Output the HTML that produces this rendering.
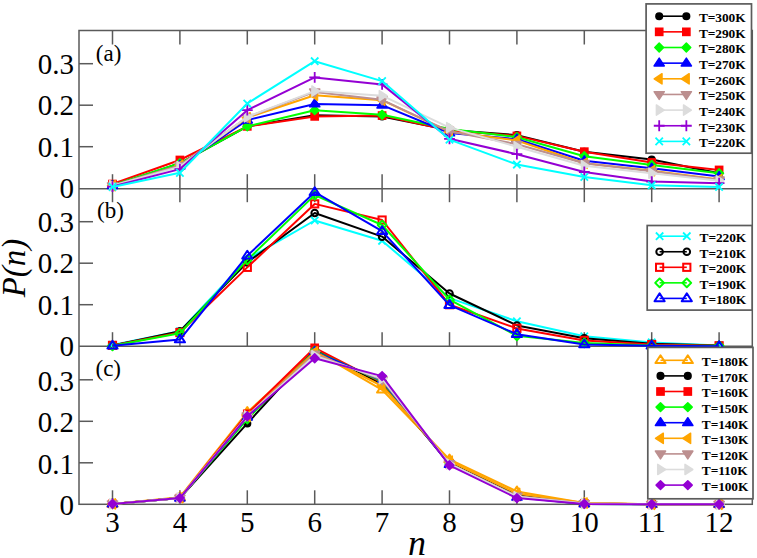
<!DOCTYPE html>
<html><head><meta charset="utf-8"><style>
html,body{margin:0;padding:0;background:#fff;}
body{width:757px;height:558px;overflow:hidden;}
svg{display:block;}
text{font-family:"Liberation Serif",serif;}
.tk text{font-size:29px;fill:#000;}
.lg{font-size:13.4px;font-weight:bold;fill:#000;letter-spacing:-0.1px;}
</style></head><body>
<svg width="757" height="558" viewBox="0 0 757 558">
<rect width="757" height="558" fill="#fff"/>
<g stroke="#5a5a5a" stroke-width="1.5" fill="none">
<line x1="112.5" y1="188.2" x2="112.5" y2="174.2"/>
<line x1="112.5" y1="30.5" x2="112.5" y2="44.5"/>
<line x1="179.9" y1="188.2" x2="179.9" y2="174.2"/>
<line x1="179.9" y1="30.5" x2="179.9" y2="44.5"/>
<line x1="247.3" y1="188.2" x2="247.3" y2="174.2"/>
<line x1="247.3" y1="30.5" x2="247.3" y2="44.5"/>
<line x1="314.7" y1="188.2" x2="314.7" y2="174.2"/>
<line x1="314.7" y1="30.5" x2="314.7" y2="44.5"/>
<line x1="382.1" y1="188.2" x2="382.1" y2="174.2"/>
<line x1="382.1" y1="30.5" x2="382.1" y2="44.5"/>
<line x1="449.5" y1="188.2" x2="449.5" y2="174.2"/>
<line x1="449.5" y1="30.5" x2="449.5" y2="44.5"/>
<line x1="516.9" y1="188.2" x2="516.9" y2="174.2"/>
<line x1="516.9" y1="30.5" x2="516.9" y2="44.5"/>
<line x1="584.3" y1="188.2" x2="584.3" y2="174.2"/>
<line x1="584.3" y1="30.5" x2="584.3" y2="44.5"/>
<line x1="651.7" y1="188.2" x2="651.7" y2="174.2"/>
<line x1="651.7" y1="30.5" x2="651.7" y2="44.5"/>
<line x1="719.1" y1="188.2" x2="719.1" y2="174.2"/>
<line x1="719.1" y1="30.5" x2="719.1" y2="44.5"/>
<line x1="79.0" y1="146.7" x2="93.0" y2="146.7"/>
<line x1="79.0" y1="105.2" x2="93.0" y2="105.2"/>
<line x1="79.0" y1="63.7" x2="93.0" y2="63.7"/>
<line x1="112.5" y1="346.2" x2="112.5" y2="332.2"/>
<line x1="112.5" y1="188.2" x2="112.5" y2="202.2"/>
<line x1="179.9" y1="346.2" x2="179.9" y2="332.2"/>
<line x1="179.9" y1="188.2" x2="179.9" y2="202.2"/>
<line x1="247.3" y1="346.2" x2="247.3" y2="332.2"/>
<line x1="247.3" y1="188.2" x2="247.3" y2="202.2"/>
<line x1="314.7" y1="346.2" x2="314.7" y2="332.2"/>
<line x1="314.7" y1="188.2" x2="314.7" y2="202.2"/>
<line x1="382.1" y1="346.2" x2="382.1" y2="332.2"/>
<line x1="382.1" y1="188.2" x2="382.1" y2="202.2"/>
<line x1="449.5" y1="346.2" x2="449.5" y2="332.2"/>
<line x1="449.5" y1="188.2" x2="449.5" y2="202.2"/>
<line x1="516.9" y1="346.2" x2="516.9" y2="332.2"/>
<line x1="516.9" y1="188.2" x2="516.9" y2="202.2"/>
<line x1="584.3" y1="346.2" x2="584.3" y2="332.2"/>
<line x1="584.3" y1="188.2" x2="584.3" y2="202.2"/>
<line x1="651.7" y1="346.2" x2="651.7" y2="332.2"/>
<line x1="651.7" y1="188.2" x2="651.7" y2="202.2"/>
<line x1="719.1" y1="346.2" x2="719.1" y2="332.2"/>
<line x1="719.1" y1="188.2" x2="719.1" y2="202.2"/>
<line x1="79.0" y1="304.7" x2="93.0" y2="304.7"/>
<line x1="79.0" y1="263.2" x2="93.0" y2="263.2"/>
<line x1="79.0" y1="221.7" x2="93.0" y2="221.7"/>
<line x1="112.5" y1="504.3" x2="112.5" y2="490.3"/>
<line x1="179.9" y1="504.3" x2="179.9" y2="490.3"/>
<line x1="247.3" y1="504.3" x2="247.3" y2="490.3"/>
<line x1="314.7" y1="504.3" x2="314.7" y2="490.3"/>
<line x1="382.1" y1="504.3" x2="382.1" y2="490.3"/>
<line x1="449.5" y1="504.3" x2="449.5" y2="490.3"/>
<line x1="516.9" y1="504.3" x2="516.9" y2="490.3"/>
<line x1="584.3" y1="504.3" x2="584.3" y2="490.3"/>
<line x1="651.7" y1="504.3" x2="651.7" y2="490.3"/>
<line x1="719.1" y1="504.3" x2="719.1" y2="490.3"/>
<line x1="79.0" y1="462.8" x2="93.0" y2="462.8"/>
<line x1="79.0" y1="421.3" x2="93.0" y2="421.3"/>
<line x1="79.0" y1="379.8" x2="93.0" y2="379.8"/>
<rect x="79.0" y="30.5" width="673.3" height="473.8" fill="none"/>
<line x1="79.0" y1="188.7" x2="752.3" y2="188.7"/>
<line x1="79.0" y1="346.2" x2="752.3" y2="346.2"/>
</g>
<g>
<polyline points="112.5,186.1 179.9,163.3 247.3,126.4 314.7,115.2 382.1,116.4 449.5,130.1 516.9,135.1 584.3,151.7 651.7,159.6 719.1,173.3" fill="none" stroke="#000000" stroke-width="2" stroke-linejoin="round"/>
<circle cx="112.50" cy="186.12" r="3.30" fill="#000000" stroke="#000000" stroke-width="1.5"/>
<circle cx="179.90" cy="163.30" r="3.30" fill="#000000" stroke="#000000" stroke-width="1.5"/>
<circle cx="247.30" cy="126.36" r="3.30" fill="#000000" stroke="#000000" stroke-width="1.5"/>
<circle cx="314.70" cy="115.16" r="3.30" fill="#000000" stroke="#000000" stroke-width="1.5"/>
<circle cx="382.10" cy="116.40" r="3.30" fill="#000000" stroke="#000000" stroke-width="1.5"/>
<circle cx="449.50" cy="130.10" r="3.30" fill="#000000" stroke="#000000" stroke-width="1.5"/>
<circle cx="516.90" cy="135.08" r="3.30" fill="#000000" stroke="#000000" stroke-width="1.5"/>
<circle cx="584.30" cy="151.68" r="3.30" fill="#000000" stroke="#000000" stroke-width="1.5"/>
<circle cx="651.70" cy="159.56" r="3.30" fill="#000000" stroke="#000000" stroke-width="1.5"/>
<circle cx="719.10" cy="173.26" r="3.30" fill="#000000" stroke="#000000" stroke-width="1.5"/>
<polyline points="112.5,184.0 179.9,160.0 247.3,126.4 314.7,116.4 382.1,115.6 449.5,130.5 516.9,135.9 584.3,151.7 651.7,162.5 719.1,169.9" fill="none" stroke="#ff0000" stroke-width="2" stroke-linejoin="round"/>
<rect x="108.90" y="180.45" width="7.20" height="7.20" fill="#ff0000" stroke="#ff0000" stroke-width="1.5"/>
<rect x="176.30" y="156.38" width="7.20" height="7.20" fill="#ff0000" stroke="#ff0000" stroke-width="1.5"/>
<rect x="243.70" y="122.76" width="7.20" height="7.20" fill="#ff0000" stroke="#ff0000" stroke-width="1.5"/>
<rect x="311.10" y="112.80" width="7.20" height="7.20" fill="#ff0000" stroke="#ff0000" stroke-width="1.5"/>
<rect x="378.50" y="111.97" width="7.20" height="7.20" fill="#ff0000" stroke="#ff0000" stroke-width="1.5"/>
<rect x="445.90" y="126.91" width="7.20" height="7.20" fill="#ff0000" stroke="#ff0000" stroke-width="1.5"/>
<rect x="513.30" y="132.31" width="7.20" height="7.20" fill="#ff0000" stroke="#ff0000" stroke-width="1.5"/>
<rect x="580.70" y="148.08" width="7.20" height="7.20" fill="#ff0000" stroke="#ff0000" stroke-width="1.5"/>
<rect x="648.10" y="158.87" width="7.20" height="7.20" fill="#ff0000" stroke="#ff0000" stroke-width="1.5"/>
<rect x="715.50" y="166.34" width="7.20" height="7.20" fill="#ff0000" stroke="#ff0000" stroke-width="1.5"/>
<polyline points="112.5,185.3 179.9,163.3 247.3,126.4 314.7,110.2 382.1,114.7 449.5,128.9 516.9,137.2 584.3,156.2 651.7,165.0 719.1,173.3" fill="none" stroke="#00ff00" stroke-width="2" stroke-linejoin="round"/>
<path d="M112.50 180.89L116.90 185.29L112.50 189.69L108.10 185.29Z" fill="#00ff00" stroke="#00ff00" stroke-width="1.5" stroke-linejoin="round"/>
<path d="M179.90 158.90L184.30 163.30L179.90 167.70L175.50 163.30Z" fill="#00ff00" stroke="#00ff00" stroke-width="1.5" stroke-linejoin="round"/>
<path d="M247.30 121.96L251.70 126.36L247.30 130.76L242.90 126.36Z" fill="#00ff00" stroke="#00ff00" stroke-width="1.5" stroke-linejoin="round"/>
<path d="M314.70 105.78L319.10 110.18L314.70 114.58L310.30 110.18Z" fill="#00ff00" stroke="#00ff00" stroke-width="1.5" stroke-linejoin="round"/>
<path d="M382.10 110.34L386.50 114.74L382.10 119.14L377.70 114.74Z" fill="#00ff00" stroke="#00ff00" stroke-width="1.5" stroke-linejoin="round"/>
<path d="M449.50 124.45L453.90 128.85L449.50 133.25L445.10 128.85Z" fill="#00ff00" stroke="#00ff00" stroke-width="1.5" stroke-linejoin="round"/>
<path d="M516.90 132.75L521.30 137.15L516.90 141.55L512.50 137.15Z" fill="#00ff00" stroke="#00ff00" stroke-width="1.5" stroke-linejoin="round"/>
<path d="M584.30 151.84L588.70 156.25L584.30 160.65L579.90 156.25Z" fill="#00ff00" stroke="#00ff00" stroke-width="1.5" stroke-linejoin="round"/>
<path d="M651.70 160.56L656.10 164.96L651.70 169.36L647.30 164.96Z" fill="#00ff00" stroke="#00ff00" stroke-width="1.5" stroke-linejoin="round"/>
<path d="M719.10 168.86L723.50 173.26L719.10 177.66L714.70 173.26Z" fill="#00ff00" stroke="#00ff00" stroke-width="1.5" stroke-linejoin="round"/>
<polyline points="112.5,185.7 179.9,165.4 247.3,120.1 314.7,104.0 382.1,105.2 449.5,133.0 516.9,139.2 584.3,160.8 651.7,168.3 719.1,176.6" fill="none" stroke="#0000ff" stroke-width="2" stroke-linejoin="round"/>
<path d="M112.50 180.71L117.60 188.51L107.40 188.51Z" fill="#0000ff" stroke="#0000ff" stroke-width="1.5" stroke-linejoin="round"/>
<path d="M179.90 160.38L185.00 168.18L174.80 168.18Z" fill="#0000ff" stroke="#0000ff" stroke-width="1.5" stroke-linejoin="round"/>
<path d="M247.30 115.14L252.40 122.94L242.20 122.94Z" fill="#0000ff" stroke="#0000ff" stroke-width="1.5" stroke-linejoin="round"/>
<path d="M314.70 98.95L319.80 106.75L309.60 106.75Z" fill="#0000ff" stroke="#0000ff" stroke-width="1.5" stroke-linejoin="round"/>
<path d="M382.10 100.20L387.20 108.00L377.00 108.00Z" fill="#0000ff" stroke="#0000ff" stroke-width="1.5" stroke-linejoin="round"/>
<path d="M449.50 128.00L454.60 135.81L444.40 135.81Z" fill="#0000ff" stroke="#0000ff" stroke-width="1.5" stroke-linejoin="round"/>
<path d="M516.90 134.23L522.00 142.03L511.80 142.03Z" fill="#0000ff" stroke="#0000ff" stroke-width="1.5" stroke-linejoin="round"/>
<path d="M584.30 155.81L589.40 163.61L579.20 163.61Z" fill="#0000ff" stroke="#0000ff" stroke-width="1.5" stroke-linejoin="round"/>
<path d="M651.70 163.28L656.80 171.08L646.60 171.08Z" fill="#0000ff" stroke="#0000ff" stroke-width="1.5" stroke-linejoin="round"/>
<path d="M719.10 171.58L724.20 179.38L714.00 179.38Z" fill="#0000ff" stroke="#0000ff" stroke-width="1.5" stroke-linejoin="round"/>
<polyline points="112.5,185.7 179.9,165.4 247.3,117.6 314.7,95.2 382.1,100.2 449.5,131.8 516.9,140.5 584.3,163.3 651.7,170.8 719.1,179.5" fill="none" stroke="#ffa500" stroke-width="2" stroke-linejoin="round"/>
<path d="M107.50 185.71L115.30 180.61L115.30 190.81Z" fill="#ffa500" stroke="#ffa500" stroke-width="1.5" stroke-linejoin="round"/>
<path d="M174.90 165.38L182.70 160.28L182.70 170.47Z" fill="#ffa500" stroke="#ffa500" stroke-width="1.5" stroke-linejoin="round"/>
<path d="M242.30 117.65L250.10 112.55L250.10 122.75Z" fill="#ffa500" stroke="#ffa500" stroke-width="1.5" stroke-linejoin="round"/>
<path d="M309.70 95.24L317.50 90.14L317.50 100.34Z" fill="#ffa500" stroke="#ffa500" stroke-width="1.5" stroke-linejoin="round"/>
<path d="M377.10 100.22L384.90 95.12L384.90 105.32Z" fill="#ffa500" stroke="#ffa500" stroke-width="1.5" stroke-linejoin="round"/>
<path d="M444.50 131.76L452.30 126.66L452.30 136.86Z" fill="#ffa500" stroke="#ffa500" stroke-width="1.5" stroke-linejoin="round"/>
<path d="M511.90 140.47L519.70 135.38L519.70 145.57Z" fill="#ffa500" stroke="#ffa500" stroke-width="1.5" stroke-linejoin="round"/>
<path d="M579.30 163.30L587.10 158.20L587.10 168.40Z" fill="#ffa500" stroke="#ffa500" stroke-width="1.5" stroke-linejoin="round"/>
<path d="M646.70 170.77L654.50 165.67L654.50 175.87Z" fill="#ffa500" stroke="#ffa500" stroke-width="1.5" stroke-linejoin="round"/>
<path d="M714.10 179.48L721.90 174.38L721.90 184.58Z" fill="#ffa500" stroke="#ffa500" stroke-width="1.5" stroke-linejoin="round"/>
<polyline points="112.5,185.7 179.9,165.4 247.3,117.2 314.7,91.9 382.1,99.8 449.5,131.3 516.9,144.2 584.3,163.3 651.7,171.2 719.1,179.9" fill="none" stroke="#bc8f8f" stroke-width="2" stroke-linejoin="round"/>
<path d="M112.50 190.71L117.60 182.91L107.40 182.91Z" fill="#bc8f8f" stroke="#bc8f8f" stroke-width="1.5" stroke-linejoin="round"/>
<path d="M179.90 170.38L185.00 162.57L174.80 162.57Z" fill="#bc8f8f" stroke="#bc8f8f" stroke-width="1.5" stroke-linejoin="round"/>
<path d="M247.30 122.23L252.40 114.43L242.20 114.43Z" fill="#bc8f8f" stroke="#bc8f8f" stroke-width="1.5" stroke-linejoin="round"/>
<path d="M314.70 96.92L319.80 89.12L309.60 89.12Z" fill="#bc8f8f" stroke="#bc8f8f" stroke-width="1.5" stroke-linejoin="round"/>
<path d="M382.10 104.80L387.20 97.00L377.00 97.00Z" fill="#bc8f8f" stroke="#bc8f8f" stroke-width="1.5" stroke-linejoin="round"/>
<path d="M449.50 136.34L454.60 128.54L444.40 128.54Z" fill="#bc8f8f" stroke="#bc8f8f" stroke-width="1.5" stroke-linejoin="round"/>
<path d="M516.90 149.21L522.00 141.41L511.80 141.41Z" fill="#bc8f8f" stroke="#bc8f8f" stroke-width="1.5" stroke-linejoin="round"/>
<path d="M584.30 168.30L589.40 160.50L579.20 160.50Z" fill="#bc8f8f" stroke="#bc8f8f" stroke-width="1.5" stroke-linejoin="round"/>
<path d="M651.70 176.19L656.80 168.38L646.60 168.38Z" fill="#bc8f8f" stroke="#bc8f8f" stroke-width="1.5" stroke-linejoin="round"/>
<path d="M719.10 184.90L724.20 177.10L714.00 177.10Z" fill="#bc8f8f" stroke="#bc8f8f" stroke-width="1.5" stroke-linejoin="round"/>
<polyline points="112.5,185.7 179.9,166.6 247.3,116.8 314.7,91.1 382.1,95.7 449.5,127.6 516.9,146.7 584.3,165.8 651.7,173.3 719.1,180.7" fill="none" stroke="#dcdcdc" stroke-width="2" stroke-linejoin="round"/>
<path d="M117.50 185.71L109.70 180.61L109.70 190.81Z" fill="#dcdcdc" stroke="#dcdcdc" stroke-width="1.5" stroke-linejoin="round"/>
<path d="M184.90 166.62L177.10 161.52L177.10 171.72Z" fill="#dcdcdc" stroke="#dcdcdc" stroke-width="1.5" stroke-linejoin="round"/>
<path d="M252.30 116.82L244.50 111.72L244.50 121.92Z" fill="#dcdcdc" stroke="#dcdcdc" stroke-width="1.5" stroke-linejoin="round"/>
<path d="M319.70 91.09L311.90 85.99L311.90 96.19Z" fill="#dcdcdc" stroke="#dcdcdc" stroke-width="1.5" stroke-linejoin="round"/>
<path d="M387.10 95.65L379.30 90.55L379.30 100.75Z" fill="#dcdcdc" stroke="#dcdcdc" stroke-width="1.5" stroke-linejoin="round"/>
<path d="M454.50 127.61L446.70 122.51L446.70 132.71Z" fill="#dcdcdc" stroke="#dcdcdc" stroke-width="1.5" stroke-linejoin="round"/>
<path d="M521.90 146.70L514.10 141.60L514.10 151.80Z" fill="#dcdcdc" stroke="#dcdcdc" stroke-width="1.5" stroke-linejoin="round"/>
<path d="M589.30 165.79L581.50 160.69L581.50 170.89Z" fill="#dcdcdc" stroke="#dcdcdc" stroke-width="1.5" stroke-linejoin="round"/>
<path d="M656.70 173.26L648.90 168.16L648.90 178.36Z" fill="#dcdcdc" stroke="#dcdcdc" stroke-width="1.5" stroke-linejoin="round"/>
<path d="M724.10 180.73L716.30 175.63L716.30 185.83Z" fill="#dcdcdc" stroke="#dcdcdc" stroke-width="1.5" stroke-linejoin="round"/>
<polyline points="112.5,186.5 179.9,169.1 247.3,110.2 314.7,77.4 382.1,84.4 449.5,138.8 516.9,154.2 584.3,172.0 651.7,181.6 719.1,183.2" fill="none" stroke="#9400d3" stroke-width="2" stroke-linejoin="round"/>
<path d="M107.10 186.54H117.90M112.50 181.14V191.94" stroke="#9400d3" stroke-width="1.8" fill="none"/>
<path d="M174.50 169.11H185.30M179.90 163.71V174.51" stroke="#9400d3" stroke-width="1.8" fill="none"/>
<path d="M241.90 110.18H252.70M247.30 104.78V115.58" stroke="#9400d3" stroke-width="1.8" fill="none"/>
<path d="M309.30 77.39H320.10M314.70 71.99V82.79" stroke="#9400d3" stroke-width="1.8" fill="none"/>
<path d="M376.70 84.45H387.50M382.10 79.05V89.85" stroke="#9400d3" stroke-width="1.8" fill="none"/>
<path d="M444.10 138.81H454.90M449.50 133.41V144.22" stroke="#9400d3" stroke-width="1.8" fill="none"/>
<path d="M511.50 154.17H522.30M516.90 148.77V159.57" stroke="#9400d3" stroke-width="1.8" fill="none"/>
<path d="M578.90 172.01H589.70M584.30 166.61V177.41" stroke="#9400d3" stroke-width="1.8" fill="none"/>
<path d="M646.30 181.56H657.10M651.70 176.16V186.96" stroke="#9400d3" stroke-width="1.8" fill="none"/>
<path d="M713.70 183.22H724.50M719.10 177.82V188.62" stroke="#9400d3" stroke-width="1.8" fill="none"/>
<polyline points="112.5,187.0 179.9,172.8 247.3,103.5 314.7,61.2 382.1,81.1 449.5,139.6 516.9,164.5 584.3,177.0 651.7,185.3 719.1,187.0" fill="none" stroke="#00ffff" stroke-width="2" stroke-linejoin="round"/>
<path d="M108.80 183.25L116.20 190.65M116.20 183.25L108.80 190.65" stroke="#00ffff" stroke-width="1.8" fill="none"/>
<path d="M176.20 169.15L183.60 176.54M183.60 169.15L176.20 176.54" stroke="#00ffff" stroke-width="1.8" fill="none"/>
<path d="M243.60 99.84L251.00 107.24M251.00 99.84L243.60 107.24" stroke="#00ffff" stroke-width="1.8" fill="none"/>
<path d="M311.00 57.51L318.40 64.91M318.40 57.51L311.00 64.91" stroke="#00ffff" stroke-width="1.8" fill="none"/>
<path d="M378.40 77.43L385.80 84.83M385.80 77.43L378.40 84.83" stroke="#00ffff" stroke-width="1.8" fill="none"/>
<path d="M445.80 135.94L453.20 143.34M453.20 135.94L445.80 143.34" stroke="#00ffff" stroke-width="1.8" fill="none"/>
<path d="M513.20 160.84L520.60 168.24M520.60 160.84L513.20 168.24" stroke="#00ffff" stroke-width="1.8" fill="none"/>
<path d="M580.60 173.29L588.00 180.69M588.00 173.29L580.60 180.69" stroke="#00ffff" stroke-width="1.8" fill="none"/>
<path d="M648.00 181.59L655.40 188.99M655.40 181.59L648.00 188.99" stroke="#00ffff" stroke-width="1.8" fill="none"/>
<path d="M715.40 183.25L722.80 190.65M722.80 183.25L715.40 190.65" stroke="#00ffff" stroke-width="1.8" fill="none"/>
<polyline points="112.5,345.0 179.9,331.3 247.3,259.1 314.7,220.5 382.1,240.8 449.5,298.1 516.9,321.3 584.3,336.2 651.7,342.5 719.1,345.4" fill="none" stroke="#00ffff" stroke-width="2" stroke-linejoin="round"/>
<path d="M108.80 341.25L116.20 348.65M116.20 341.25L108.80 348.65" stroke="#00ffff" stroke-width="1.8" fill="none"/>
<path d="M176.20 327.56L183.60 334.96M183.60 327.56L176.20 334.96" stroke="#00ffff" stroke-width="1.8" fill="none"/>
<path d="M243.60 255.35L251.00 262.75M251.00 255.35L243.60 262.75" stroke="#00ffff" stroke-width="1.8" fill="none"/>
<path d="M311.00 216.75L318.40 224.15M318.40 216.75L311.00 224.15" stroke="#00ffff" stroke-width="1.8" fill="none"/>
<path d="M378.40 237.09L385.80 244.49M385.80 237.09L378.40 244.49" stroke="#00ffff" stroke-width="1.8" fill="none"/>
<path d="M445.80 294.36L453.20 301.76M453.20 294.36L445.80 301.76" stroke="#00ffff" stroke-width="1.8" fill="none"/>
<path d="M513.20 317.60L520.60 325.00M520.60 317.60L513.20 325.00" stroke="#00ffff" stroke-width="1.8" fill="none"/>
<path d="M580.60 332.54L588.00 339.94M588.00 332.54L580.60 339.94" stroke="#00ffff" stroke-width="1.8" fill="none"/>
<path d="M648.00 338.76L655.40 346.16M655.40 338.76L648.00 346.16" stroke="#00ffff" stroke-width="1.8" fill="none"/>
<path d="M715.40 341.67L722.80 349.07M722.80 341.67L715.40 349.07" stroke="#00ffff" stroke-width="1.8" fill="none"/>
<polyline points="112.5,345.4 179.9,331.3 247.3,262.4 314.7,213.0 382.1,236.6 449.5,293.5 516.9,325.4 584.3,338.3 651.7,343.7 719.1,345.4" fill="none" stroke="#000000" stroke-width="2" stroke-linejoin="round"/>
<circle cx="112.50" cy="345.37" r="3.30" fill="none" stroke="#000000" stroke-width="2.0"/>
<circle cx="179.90" cy="331.26" r="3.30" fill="none" stroke="#000000" stroke-width="2.0"/>
<circle cx="247.30" cy="262.37" r="3.30" fill="none" stroke="#000000" stroke-width="2.0"/>
<circle cx="314.70" cy="212.98" r="3.30" fill="none" stroke="#000000" stroke-width="2.0"/>
<circle cx="382.10" cy="236.64" r="3.30" fill="none" stroke="#000000" stroke-width="2.0"/>
<circle cx="449.50" cy="293.50" r="3.30" fill="none" stroke="#000000" stroke-width="2.0"/>
<circle cx="516.90" cy="325.45" r="3.30" fill="none" stroke="#000000" stroke-width="2.0"/>
<circle cx="584.30" cy="338.31" r="3.30" fill="none" stroke="#000000" stroke-width="2.0"/>
<circle cx="651.70" cy="343.71" r="3.30" fill="none" stroke="#000000" stroke-width="2.0"/>
<circle cx="719.10" cy="345.37" r="3.30" fill="none" stroke="#000000" stroke-width="2.0"/>
<polyline points="112.5,345.4 179.9,332.5 247.3,267.4 314.7,203.9 382.1,220.0 449.5,304.7 516.9,328.4 584.3,340.4 651.7,344.5 719.1,345.8" fill="none" stroke="#ff0000" stroke-width="2" stroke-linejoin="round"/>
<rect x="108.90" y="341.77" width="7.20" height="7.20" fill="none" stroke="#ff0000" stroke-width="2.0"/>
<rect x="176.30" y="328.90" width="7.20" height="7.20" fill="none" stroke="#ff0000" stroke-width="2.0"/>
<rect x="243.70" y="263.75" width="7.20" height="7.20" fill="none" stroke="#ff0000" stroke-width="2.0"/>
<rect x="311.10" y="200.25" width="7.20" height="7.20" fill="none" stroke="#ff0000" stroke-width="2.0"/>
<rect x="378.50" y="216.44" width="7.20" height="7.20" fill="none" stroke="#ff0000" stroke-width="2.0"/>
<rect x="445.90" y="301.10" width="7.20" height="7.20" fill="none" stroke="#ff0000" stroke-width="2.0"/>
<rect x="513.30" y="324.75" width="7.20" height="7.20" fill="none" stroke="#ff0000" stroke-width="2.0"/>
<rect x="580.70" y="336.79" width="7.20" height="7.20" fill="none" stroke="#ff0000" stroke-width="2.0"/>
<rect x="648.10" y="340.94" width="7.20" height="7.20" fill="none" stroke="#ff0000" stroke-width="2.0"/>
<rect x="715.50" y="342.18" width="7.20" height="7.20" fill="none" stroke="#ff0000" stroke-width="2.0"/>
<polyline points="112.5,345.8 179.9,333.3 247.3,259.9 314.7,195.1 382.1,225.0 449.5,299.7 516.9,335.8 584.3,342.9 651.7,345.4 719.1,345.8" fill="none" stroke="#00ff00" stroke-width="2" stroke-linejoin="round"/>
<path d="M112.50 341.38L116.90 345.78L112.50 350.18L108.10 345.78Z" fill="none" stroke="#00ff00" stroke-width="2.0" stroke-linejoin="round"/>
<path d="M179.90 328.94L184.30 333.33L179.90 337.73L175.50 333.33Z" fill="none" stroke="#00ff00" stroke-width="2.0" stroke-linejoin="round"/>
<path d="M247.30 255.48L251.70 259.88L247.30 264.28L242.90 259.88Z" fill="none" stroke="#00ff00" stroke-width="2.0" stroke-linejoin="round"/>
<path d="M314.70 190.74L319.10 195.14L314.70 199.54L310.30 195.14Z" fill="none" stroke="#00ff00" stroke-width="2.0" stroke-linejoin="round"/>
<path d="M382.10 220.62L386.50 225.02L382.10 229.42L377.70 225.02Z" fill="none" stroke="#00ff00" stroke-width="2.0" stroke-linejoin="round"/>
<path d="M449.50 295.32L453.90 299.72L449.50 304.12L445.10 299.72Z" fill="none" stroke="#00ff00" stroke-width="2.0" stroke-linejoin="round"/>
<path d="M516.90 331.43L521.30 335.82L516.90 340.22L512.50 335.82Z" fill="none" stroke="#00ff00" stroke-width="2.0" stroke-linejoin="round"/>
<path d="M584.30 338.48L588.70 342.88L584.30 347.28L579.90 342.88Z" fill="none" stroke="#00ff00" stroke-width="2.0" stroke-linejoin="round"/>
<path d="M651.70 340.97L656.10 345.37L651.70 349.77L647.30 345.37Z" fill="none" stroke="#00ff00" stroke-width="2.0" stroke-linejoin="round"/>
<path d="M719.10 341.38L723.50 345.78L719.10 350.18L714.70 345.78Z" fill="none" stroke="#00ff00" stroke-width="2.0" stroke-linejoin="round"/>
<polyline points="112.5,345.8 179.9,339.6 247.3,255.7 314.7,192.2 382.1,231.2 449.5,305.1 516.9,334.2 584.3,344.5 651.7,345.8 719.1,346.2" fill="none" stroke="#0000ff" stroke-width="2" stroke-linejoin="round"/>
<path d="M112.50 340.78L117.60 348.58L107.40 348.58Z" fill="none" stroke="#0000ff" stroke-width="2.0" stroke-linejoin="round"/>
<path d="M179.90 334.56L185.00 342.36L174.80 342.36Z" fill="none" stroke="#0000ff" stroke-width="2.0" stroke-linejoin="round"/>
<path d="M247.30 250.73L252.40 258.53L242.20 258.53Z" fill="none" stroke="#0000ff" stroke-width="2.0" stroke-linejoin="round"/>
<path d="M314.70 187.23L319.80 195.03L309.60 195.03Z" fill="none" stroke="#0000ff" stroke-width="2.0" stroke-linejoin="round"/>
<path d="M382.10 226.24L387.20 234.04L377.00 234.04Z" fill="none" stroke="#0000ff" stroke-width="2.0" stroke-linejoin="round"/>
<path d="M449.50 300.12L454.60 307.92L444.40 307.92Z" fill="none" stroke="#0000ff" stroke-width="2.0" stroke-linejoin="round"/>
<path d="M516.90 329.16L522.00 336.96L511.80 336.96Z" fill="none" stroke="#0000ff" stroke-width="2.0" stroke-linejoin="round"/>
<path d="M584.30 339.54L589.40 347.34L579.20 347.34Z" fill="none" stroke="#0000ff" stroke-width="2.0" stroke-linejoin="round"/>
<path d="M651.70 340.78L656.80 348.58L646.60 348.58Z" fill="none" stroke="#0000ff" stroke-width="2.0" stroke-linejoin="round"/>
<path d="M719.10 341.20L724.20 349.00L714.00 349.00Z" fill="none" stroke="#0000ff" stroke-width="2.0" stroke-linejoin="round"/>
<polyline points="112.5,503.9 179.9,497.2 247.3,412.2 314.7,350.8 382.1,389.8 449.5,459.5 516.9,491.4 584.3,503.1 651.7,504.3 719.1,504.3" fill="none" stroke="#ffa500" stroke-width="2" stroke-linejoin="round"/>
<path d="M112.50 498.88L117.60 506.69L107.40 506.69Z" fill="none" stroke="#ffa500" stroke-width="2.0" stroke-linejoin="round"/>
<path d="M179.90 492.25L185.00 500.05L174.80 500.05Z" fill="none" stroke="#ffa500" stroke-width="2.0" stroke-linejoin="round"/>
<path d="M247.30 407.17L252.40 414.97L242.20 414.97Z" fill="none" stroke="#ffa500" stroke-width="2.0" stroke-linejoin="round"/>
<path d="M314.70 345.75L319.80 353.55L309.60 353.55Z" fill="none" stroke="#ffa500" stroke-width="2.0" stroke-linejoin="round"/>
<path d="M382.10 384.76L387.20 392.56L377.00 392.56Z" fill="none" stroke="#ffa500" stroke-width="2.0" stroke-linejoin="round"/>
<path d="M449.50 454.48L454.60 462.28L444.40 462.28Z" fill="none" stroke="#ffa500" stroke-width="2.0" stroke-linejoin="round"/>
<path d="M516.90 486.44L522.00 494.24L511.80 494.24Z" fill="none" stroke="#ffa500" stroke-width="2.0" stroke-linejoin="round"/>
<path d="M584.30 498.06L589.40 505.86L579.20 505.86Z" fill="none" stroke="#ffa500" stroke-width="2.0" stroke-linejoin="round"/>
<path d="M651.70 499.30L656.80 507.10L646.60 507.10Z" fill="none" stroke="#ffa500" stroke-width="2.0" stroke-linejoin="round"/>
<path d="M719.10 499.30L724.20 507.10L714.00 507.10Z" fill="none" stroke="#ffa500" stroke-width="2.0" stroke-linejoin="round"/>
<polyline points="112.5,503.9 179.9,498.1 247.3,423.4 314.7,349.9 382.1,384.0 449.5,462.8 516.9,495.2 584.3,503.5 651.7,504.3 719.1,504.3" fill="none" stroke="#000000" stroke-width="2" stroke-linejoin="round"/>
<circle cx="112.50" cy="503.88" r="3.30" fill="#000000" stroke="#000000" stroke-width="1.5"/>
<circle cx="179.90" cy="498.07" r="3.30" fill="#000000" stroke="#000000" stroke-width="1.5"/>
<circle cx="247.30" cy="423.38" r="3.30" fill="#000000" stroke="#000000" stroke-width="1.5"/>
<circle cx="314.70" cy="349.92" r="3.30" fill="#000000" stroke="#000000" stroke-width="1.5"/>
<circle cx="382.10" cy="383.95" r="3.30" fill="#000000" stroke="#000000" stroke-width="1.5"/>
<circle cx="449.50" cy="462.80" r="3.30" fill="#000000" stroke="#000000" stroke-width="1.5"/>
<circle cx="516.90" cy="495.17" r="3.30" fill="#000000" stroke="#000000" stroke-width="1.5"/>
<circle cx="584.30" cy="503.47" r="3.30" fill="#000000" stroke="#000000" stroke-width="1.5"/>
<circle cx="651.70" cy="504.30" r="3.30" fill="#000000" stroke="#000000" stroke-width="1.5"/>
<circle cx="719.10" cy="504.30" r="3.30" fill="#000000" stroke="#000000" stroke-width="1.5"/>
<polyline points="112.5,503.9 179.9,498.1 247.3,413.8 314.7,347.8 382.1,382.7 449.5,464.0 516.9,496.8 584.3,503.5 651.7,504.3 719.1,504.3" fill="none" stroke="#ff0000" stroke-width="2" stroke-linejoin="round"/>
<rect x="108.90" y="500.28" width="7.20" height="7.20" fill="#ff0000" stroke="#ff0000" stroke-width="1.5"/>
<rect x="176.30" y="494.47" width="7.20" height="7.20" fill="#ff0000" stroke="#ff0000" stroke-width="1.5"/>
<rect x="243.70" y="410.23" width="7.20" height="7.20" fill="#ff0000" stroke="#ff0000" stroke-width="1.5"/>
<rect x="311.10" y="344.25" width="7.20" height="7.20" fill="#ff0000" stroke="#ff0000" stroke-width="1.5"/>
<rect x="378.50" y="379.11" width="7.20" height="7.20" fill="#ff0000" stroke="#ff0000" stroke-width="1.5"/>
<rect x="445.90" y="460.44" width="7.20" height="7.20" fill="#ff0000" stroke="#ff0000" stroke-width="1.5"/>
<rect x="513.30" y="493.23" width="7.20" height="7.20" fill="#ff0000" stroke="#ff0000" stroke-width="1.5"/>
<rect x="580.70" y="499.87" width="7.20" height="7.20" fill="#ff0000" stroke="#ff0000" stroke-width="1.5"/>
<rect x="648.10" y="500.70" width="7.20" height="7.20" fill="#ff0000" stroke="#ff0000" stroke-width="1.5"/>
<rect x="715.50" y="500.70" width="7.20" height="7.20" fill="#ff0000" stroke="#ff0000" stroke-width="1.5"/>
<polyline points="112.5,503.9 179.9,498.1 247.3,419.2 314.7,350.8 382.1,381.5 449.5,464.0 516.9,496.8 584.3,503.9 651.7,504.3 719.1,504.3" fill="none" stroke="#00ff00" stroke-width="2" stroke-linejoin="round"/>
<path d="M112.50 499.49L116.90 503.88L112.50 508.28L108.10 503.88Z" fill="#00ff00" stroke="#00ff00" stroke-width="1.5" stroke-linejoin="round"/>
<path d="M179.90 493.68L184.30 498.07L179.90 502.47L175.50 498.07Z" fill="#00ff00" stroke="#00ff00" stroke-width="1.5" stroke-linejoin="round"/>
<path d="M247.30 414.83L251.70 419.23L247.30 423.62L242.90 419.23Z" fill="#00ff00" stroke="#00ff00" stroke-width="1.5" stroke-linejoin="round"/>
<path d="M314.70 346.35L319.10 350.75L314.70 355.15L310.30 350.75Z" fill="#00ff00" stroke="#00ff00" stroke-width="1.5" stroke-linejoin="round"/>
<path d="M382.10 377.06L386.50 381.46L382.10 385.86L377.70 381.46Z" fill="#00ff00" stroke="#00ff00" stroke-width="1.5" stroke-linejoin="round"/>
<path d="M449.50 459.65L453.90 464.05L449.50 468.44L445.10 464.05Z" fill="#00ff00" stroke="#00ff00" stroke-width="1.5" stroke-linejoin="round"/>
<path d="M516.90 492.43L521.30 496.83L516.90 501.23L512.50 496.83Z" fill="#00ff00" stroke="#00ff00" stroke-width="1.5" stroke-linejoin="round"/>
<path d="M584.30 499.49L588.70 503.88L584.30 508.28L579.90 503.88Z" fill="#00ff00" stroke="#00ff00" stroke-width="1.5" stroke-linejoin="round"/>
<path d="M651.70 499.90L656.10 504.30L651.70 508.70L647.30 504.30Z" fill="#00ff00" stroke="#00ff00" stroke-width="1.5" stroke-linejoin="round"/>
<path d="M719.10 499.90L723.50 504.30L719.10 508.70L714.70 504.30Z" fill="#00ff00" stroke="#00ff00" stroke-width="1.5" stroke-linejoin="round"/>
<polyline points="112.5,503.9 179.9,498.1 247.3,417.2 314.7,351.6 382.1,380.6 449.5,464.5 516.9,497.2 584.3,503.9 651.7,504.3 719.1,504.3" fill="none" stroke="#0000ff" stroke-width="2" stroke-linejoin="round"/>
<path d="M112.50 498.88L117.60 506.69L107.40 506.69Z" fill="#0000ff" stroke="#0000ff" stroke-width="1.5" stroke-linejoin="round"/>
<path d="M179.90 493.07L185.00 500.88L174.80 500.88Z" fill="#0000ff" stroke="#0000ff" stroke-width="1.5" stroke-linejoin="round"/>
<path d="M247.30 412.15L252.40 419.95L242.20 419.95Z" fill="#0000ff" stroke="#0000ff" stroke-width="1.5" stroke-linejoin="round"/>
<path d="M314.70 346.58L319.80 354.38L309.60 354.38Z" fill="#0000ff" stroke="#0000ff" stroke-width="1.5" stroke-linejoin="round"/>
<path d="M382.10 375.63L387.20 383.43L377.00 383.43Z" fill="#0000ff" stroke="#0000ff" stroke-width="1.5" stroke-linejoin="round"/>
<path d="M449.50 459.46L454.60 467.26L444.40 467.26Z" fill="#0000ff" stroke="#0000ff" stroke-width="1.5" stroke-linejoin="round"/>
<path d="M516.90 492.25L522.00 500.05L511.80 500.05Z" fill="#0000ff" stroke="#0000ff" stroke-width="1.5" stroke-linejoin="round"/>
<path d="M584.30 498.88L589.40 506.69L579.20 506.69Z" fill="#0000ff" stroke="#0000ff" stroke-width="1.5" stroke-linejoin="round"/>
<path d="M651.70 499.30L656.80 507.10L646.60 507.10Z" fill="#0000ff" stroke="#0000ff" stroke-width="1.5" stroke-linejoin="round"/>
<path d="M719.10 499.30L724.20 507.10L714.00 507.10Z" fill="#0000ff" stroke="#0000ff" stroke-width="1.5" stroke-linejoin="round"/>
<polyline points="112.5,503.9 179.9,497.7 247.3,416.3 314.7,352.0 382.1,386.0 449.5,461.1 516.9,493.5 584.3,503.1 651.7,504.3 719.1,504.3" fill="none" stroke="#ffa500" stroke-width="2" stroke-linejoin="round"/>
<path d="M107.50 503.88L115.30 498.78L115.30 508.99Z" fill="#ffa500" stroke="#ffa500" stroke-width="1.5" stroke-linejoin="round"/>
<path d="M174.90 497.66L182.70 492.56L182.70 502.76Z" fill="#ffa500" stroke="#ffa500" stroke-width="1.5" stroke-linejoin="round"/>
<path d="M242.30 416.32L250.10 411.22L250.10 421.42Z" fill="#ffa500" stroke="#ffa500" stroke-width="1.5" stroke-linejoin="round"/>
<path d="M309.70 352.00L317.50 346.89L317.50 357.10Z" fill="#ffa500" stroke="#ffa500" stroke-width="1.5" stroke-linejoin="round"/>
<path d="M377.10 386.03L384.90 380.93L384.90 391.13Z" fill="#ffa500" stroke="#ffa500" stroke-width="1.5" stroke-linejoin="round"/>
<path d="M444.50 461.14L452.30 456.04L452.30 466.24Z" fill="#ffa500" stroke="#ffa500" stroke-width="1.5" stroke-linejoin="round"/>
<path d="M511.90 493.51L519.70 488.41L519.70 498.61Z" fill="#ffa500" stroke="#ffa500" stroke-width="1.5" stroke-linejoin="round"/>
<path d="M579.30 503.06L587.10 497.95L587.10 508.16Z" fill="#ffa500" stroke="#ffa500" stroke-width="1.5" stroke-linejoin="round"/>
<path d="M646.70 504.30L654.50 499.20L654.50 509.40Z" fill="#ffa500" stroke="#ffa500" stroke-width="1.5" stroke-linejoin="round"/>
<path d="M714.10 504.30L721.90 499.20L721.90 509.40Z" fill="#ffa500" stroke="#ffa500" stroke-width="1.5" stroke-linejoin="round"/>
<polyline points="112.5,503.9 179.9,498.1 247.3,415.9 314.7,354.1 382.1,379.8 449.5,463.6 516.9,496.0 584.3,503.5 651.7,504.3 719.1,504.3" fill="none" stroke="#bc8f8f" stroke-width="2" stroke-linejoin="round"/>
<path d="M112.50 508.88L117.60 501.08L107.40 501.08Z" fill="#bc8f8f" stroke="#bc8f8f" stroke-width="1.5" stroke-linejoin="round"/>
<path d="M179.90 503.07L185.00 495.27L174.80 495.27Z" fill="#bc8f8f" stroke="#bc8f8f" stroke-width="1.5" stroke-linejoin="round"/>
<path d="M247.30 420.91L252.40 413.11L242.20 413.11Z" fill="#bc8f8f" stroke="#bc8f8f" stroke-width="1.5" stroke-linejoin="round"/>
<path d="M314.70 359.07L319.80 351.27L309.60 351.27Z" fill="#bc8f8f" stroke="#bc8f8f" stroke-width="1.5" stroke-linejoin="round"/>
<path d="M382.10 384.80L387.20 377.00L377.00 377.00Z" fill="#bc8f8f" stroke="#bc8f8f" stroke-width="1.5" stroke-linejoin="round"/>
<path d="M449.50 468.63L454.60 460.83L444.40 460.83Z" fill="#bc8f8f" stroke="#bc8f8f" stroke-width="1.5" stroke-linejoin="round"/>
<path d="M516.90 501.00L522.00 493.20L511.80 493.20Z" fill="#bc8f8f" stroke="#bc8f8f" stroke-width="1.5" stroke-linejoin="round"/>
<path d="M584.30 508.47L589.40 500.67L579.20 500.67Z" fill="#bc8f8f" stroke="#bc8f8f" stroke-width="1.5" stroke-linejoin="round"/>
<path d="M651.70 509.30L656.80 501.50L646.60 501.50Z" fill="#bc8f8f" stroke="#bc8f8f" stroke-width="1.5" stroke-linejoin="round"/>
<path d="M719.10 509.30L724.20 501.50L714.00 501.50Z" fill="#bc8f8f" stroke="#bc8f8f" stroke-width="1.5" stroke-linejoin="round"/>
<polyline points="112.5,503.9 179.9,498.1 247.3,415.9 314.7,355.7 382.1,378.6 449.5,464.0 516.9,496.8 584.3,503.5 651.7,504.3 719.1,504.3" fill="none" stroke="#dcdcdc" stroke-width="2" stroke-linejoin="round"/>
<path d="M117.50 503.88L109.70 498.78L109.70 508.99Z" fill="#dcdcdc" stroke="#dcdcdc" stroke-width="1.5" stroke-linejoin="round"/>
<path d="M184.90 498.07L177.10 492.97L177.10 503.18Z" fill="#dcdcdc" stroke="#dcdcdc" stroke-width="1.5" stroke-linejoin="round"/>
<path d="M252.30 415.91L244.50 410.81L244.50 421.01Z" fill="#dcdcdc" stroke="#dcdcdc" stroke-width="1.5" stroke-linejoin="round"/>
<path d="M319.70 355.73L311.90 350.63L311.90 360.83Z" fill="#dcdcdc" stroke="#dcdcdc" stroke-width="1.5" stroke-linejoin="round"/>
<path d="M387.10 378.56L379.30 373.45L379.30 383.66Z" fill="#dcdcdc" stroke="#dcdcdc" stroke-width="1.5" stroke-linejoin="round"/>
<path d="M454.50 464.05L446.70 458.94L446.70 469.15Z" fill="#dcdcdc" stroke="#dcdcdc" stroke-width="1.5" stroke-linejoin="round"/>
<path d="M521.90 496.83L514.10 491.73L514.10 501.93Z" fill="#dcdcdc" stroke="#dcdcdc" stroke-width="1.5" stroke-linejoin="round"/>
<path d="M589.30 503.47L581.50 498.37L581.50 508.57Z" fill="#dcdcdc" stroke="#dcdcdc" stroke-width="1.5" stroke-linejoin="round"/>
<path d="M656.70 504.30L648.90 499.20L648.90 509.40Z" fill="#dcdcdc" stroke="#dcdcdc" stroke-width="1.5" stroke-linejoin="round"/>
<path d="M724.10 504.30L716.30 499.20L716.30 509.40Z" fill="#dcdcdc" stroke="#dcdcdc" stroke-width="1.5" stroke-linejoin="round"/>
<polyline points="112.5,503.9 179.9,498.1 247.3,416.3 314.7,358.2 382.1,376.1 449.5,465.3 516.9,498.1 584.3,503.9 651.7,504.3 719.1,504.3" fill="none" stroke="#9400d3" stroke-width="2" stroke-linejoin="round"/>
<path d="M112.50 499.49L116.90 503.88L112.50 508.28L108.10 503.88Z" fill="#9400d3" stroke="#9400d3" stroke-width="1.5" stroke-linejoin="round"/>
<path d="M179.90 493.68L184.30 498.07L179.90 502.47L175.50 498.07Z" fill="#9400d3" stroke="#9400d3" stroke-width="1.5" stroke-linejoin="round"/>
<path d="M247.30 411.92L251.70 416.32L247.30 420.72L242.90 416.32Z" fill="#9400d3" stroke="#9400d3" stroke-width="1.5" stroke-linejoin="round"/>
<path d="M314.70 353.82L319.10 358.22L314.70 362.62L310.30 358.22Z" fill="#9400d3" stroke="#9400d3" stroke-width="1.5" stroke-linejoin="round"/>
<path d="M382.10 371.67L386.50 376.07L382.10 380.47L377.70 376.07Z" fill="#9400d3" stroke="#9400d3" stroke-width="1.5" stroke-linejoin="round"/>
<path d="M449.50 460.89L453.90 465.29L449.50 469.69L445.10 465.29Z" fill="#9400d3" stroke="#9400d3" stroke-width="1.5" stroke-linejoin="round"/>
<path d="M516.90 493.68L521.30 498.07L516.90 502.47L512.50 498.07Z" fill="#9400d3" stroke="#9400d3" stroke-width="1.5" stroke-linejoin="round"/>
<path d="M584.30 499.49L588.70 503.88L584.30 508.28L579.90 503.88Z" fill="#9400d3" stroke="#9400d3" stroke-width="1.5" stroke-linejoin="round"/>
<path d="M651.70 499.90L656.10 504.30L651.70 508.70L647.30 504.30Z" fill="#9400d3" stroke="#9400d3" stroke-width="1.5" stroke-linejoin="round"/>
<path d="M719.10 499.90L723.50 504.30L719.10 508.70L714.70 504.30Z" fill="#9400d3" stroke="#9400d3" stroke-width="1.5" stroke-linejoin="round"/>
</g>
<g class="tk">
<text x="74" y="198.3" text-anchor="end">0</text>
<text x="74" y="156.8" text-anchor="end">0.1</text>
<text x="74" y="115.3" text-anchor="end">0.2</text>
<text x="74" y="73.8" text-anchor="end">0.3</text>
<text x="74" y="356.3" text-anchor="end">0</text>
<text x="74" y="314.8" text-anchor="end">0.1</text>
<text x="74" y="273.3" text-anchor="end">0.2</text>
<text x="74" y="231.8" text-anchor="end">0.3</text>
<text x="74" y="515.0" text-anchor="end">0</text>
<text x="74" y="473.5" text-anchor="end">0.1</text>
<text x="74" y="432.0" text-anchor="end">0.2</text>
<text x="74" y="390.5" text-anchor="end">0.3</text>
<text x="112.5" y="531.5" text-anchor="middle">3</text>
<text x="179.9" y="531.5" text-anchor="middle">4</text>
<text x="247.3" y="531.5" text-anchor="middle">5</text>
<text x="314.7" y="531.5" text-anchor="middle">6</text>
<text x="382.1" y="531.5" text-anchor="middle">7</text>
<text x="449.5" y="531.5" text-anchor="middle">8</text>
<text x="516.9" y="531.5" text-anchor="middle">9</text>
<text x="584.3" y="531.5" text-anchor="middle">10</text>
<text x="651.7" y="531.5" text-anchor="middle">11</text>
<text x="719.1" y="531.5" text-anchor="middle">12</text>
</g>
<text x="95.8" y="60.5" style="font-size:23px;fill:#000">(a)</text>
<text x="97" y="218.2" style="font-size:23px;fill:#000">(b)</text>
<text x="95.5" y="375.9" style="font-size:23px;fill:#000">(c)</text>
<text x="408" y="555" style="font-size:36px;font-style:italic;fill:#000">n</text>
<text transform="translate(24.5,268) rotate(-90)" text-anchor="middle" style="font-size:33px;font-style:italic;fill:#000">P(n)</text>
<rect x="646.10" y="3.90" width="105.40" height="149.30" fill="#fff" stroke="#5c5c5c" stroke-width="1.7"/>
<line x1="659.20" y1="16.20" x2="686.35" y2="16.20" stroke="#000000" stroke-width="1.6"/>
<circle cx="659.20" cy="16.20" r="3.30" fill="#000000" stroke="#000000" stroke-width="1.5"/>
<circle cx="686.35" cy="16.20" r="3.30" fill="#000000" stroke="#000000" stroke-width="1.5"/>
<text x="699.00" y="22.10" class="lg">T=300K</text>
<line x1="659.20" y1="31.85" x2="686.35" y2="31.85" stroke="#ff0000" stroke-width="1.6"/>
<rect x="655.60" y="28.25" width="7.20" height="7.20" fill="#ff0000" stroke="#ff0000" stroke-width="1.5"/>
<rect x="682.75" y="28.25" width="7.20" height="7.20" fill="#ff0000" stroke="#ff0000" stroke-width="1.5"/>
<text x="699.00" y="37.75" class="lg">T=290K</text>
<line x1="659.20" y1="47.50" x2="686.35" y2="47.50" stroke="#00ff00" stroke-width="1.6"/>
<path d="M659.20 43.10L663.60 47.50L659.20 51.90L654.80 47.50Z" fill="#00ff00" stroke="#00ff00" stroke-width="1.5" stroke-linejoin="round"/>
<path d="M686.35 43.10L690.75 47.50L686.35 51.90L681.95 47.50Z" fill="#00ff00" stroke="#00ff00" stroke-width="1.5" stroke-linejoin="round"/>
<text x="699.00" y="53.40" class="lg">T=280K</text>
<line x1="659.20" y1="63.15" x2="686.35" y2="63.15" stroke="#0000ff" stroke-width="1.6"/>
<path d="M659.20 58.15L664.30 65.95L654.10 65.95Z" fill="#0000ff" stroke="#0000ff" stroke-width="1.5" stroke-linejoin="round"/>
<path d="M686.35 58.15L691.45 65.95L681.25 65.95Z" fill="#0000ff" stroke="#0000ff" stroke-width="1.5" stroke-linejoin="round"/>
<text x="699.00" y="69.05" class="lg">T=270K</text>
<line x1="659.20" y1="78.80" x2="686.35" y2="78.80" stroke="#ffa500" stroke-width="1.6"/>
<path d="M654.20 78.80L662.00 73.70L662.00 83.90Z" fill="#ffa500" stroke="#ffa500" stroke-width="1.5" stroke-linejoin="round"/>
<path d="M681.35 78.80L689.15 73.70L689.15 83.90Z" fill="#ffa500" stroke="#ffa500" stroke-width="1.5" stroke-linejoin="round"/>
<text x="699.00" y="84.70" class="lg">T=260K</text>
<line x1="659.20" y1="94.45" x2="686.35" y2="94.45" stroke="#bc8f8f" stroke-width="1.6"/>
<path d="M659.20 99.45L664.30 91.65L654.10 91.65Z" fill="#bc8f8f" stroke="#bc8f8f" stroke-width="1.5" stroke-linejoin="round"/>
<path d="M686.35 99.45L691.45 91.65L681.25 91.65Z" fill="#bc8f8f" stroke="#bc8f8f" stroke-width="1.5" stroke-linejoin="round"/>
<text x="699.00" y="100.35" class="lg">T=250K</text>
<line x1="659.20" y1="110.10" x2="686.35" y2="110.10" stroke="#dcdcdc" stroke-width="1.6"/>
<path d="M664.20 110.10L656.40 105.00L656.40 115.20Z" fill="#dcdcdc" stroke="#dcdcdc" stroke-width="1.5" stroke-linejoin="round"/>
<path d="M691.35 110.10L683.55 105.00L683.55 115.20Z" fill="#dcdcdc" stroke="#dcdcdc" stroke-width="1.5" stroke-linejoin="round"/>
<text x="699.00" y="116.00" class="lg">T=240K</text>
<line x1="659.20" y1="125.75" x2="686.35" y2="125.75" stroke="#9400d3" stroke-width="1.6"/>
<path d="M653.80 125.75H664.60M659.20 120.35V131.15" stroke="#9400d3" stroke-width="1.8" fill="none"/>
<path d="M680.95 125.75H691.75M686.35 120.35V131.15" stroke="#9400d3" stroke-width="1.8" fill="none"/>
<text x="699.00" y="131.65" class="lg">T=230K</text>
<line x1="659.20" y1="141.40" x2="686.35" y2="141.40" stroke="#00ffff" stroke-width="1.6"/>
<path d="M655.50 137.70L662.90 145.10M662.90 137.70L655.50 145.10" stroke="#00ffff" stroke-width="1.8" fill="none"/>
<path d="M682.65 137.70L690.05 145.10M690.05 137.70L682.65 145.10" stroke="#00ffff" stroke-width="1.8" fill="none"/>
<text x="699.00" y="147.30" class="lg">T=220K</text>
<rect x="647.20" y="225.50" width="104.90" height="84.60" fill="#fff" stroke="#5c5c5c" stroke-width="1.7"/>
<line x1="659.60" y1="236.20" x2="686.80" y2="236.20" stroke="#00ffff" stroke-width="1.6"/>
<path d="M655.90 232.50L663.30 239.90M663.30 232.50L655.90 239.90" stroke="#00ffff" stroke-width="1.8" fill="none"/>
<path d="M683.10 232.50L690.50 239.90M690.50 232.50L683.10 239.90" stroke="#00ffff" stroke-width="1.8" fill="none"/>
<text x="699.60" y="242.10" class="lg">T=220K</text>
<line x1="659.60" y1="251.75" x2="686.80" y2="251.75" stroke="#000000" stroke-width="1.6"/>
<circle cx="659.60" cy="251.75" r="3.30" fill="none" stroke="#000000" stroke-width="2.0"/>
<circle cx="686.80" cy="251.75" r="3.30" fill="none" stroke="#000000" stroke-width="2.0"/>
<text x="699.60" y="257.65" class="lg">T=210K</text>
<line x1="659.60" y1="267.30" x2="686.80" y2="267.30" stroke="#ff0000" stroke-width="1.6"/>
<rect x="656.00" y="263.70" width="7.20" height="7.20" fill="none" stroke="#ff0000" stroke-width="2.0"/>
<rect x="683.20" y="263.70" width="7.20" height="7.20" fill="none" stroke="#ff0000" stroke-width="2.0"/>
<text x="699.60" y="273.20" class="lg">T=200K</text>
<line x1="659.60" y1="282.85" x2="686.80" y2="282.85" stroke="#00ff00" stroke-width="1.6"/>
<path d="M659.60 278.45L664.00 282.85L659.60 287.25L655.20 282.85Z" fill="none" stroke="#00ff00" stroke-width="2.0" stroke-linejoin="round"/>
<path d="M686.80 278.45L691.20 282.85L686.80 287.25L682.40 282.85Z" fill="none" stroke="#00ff00" stroke-width="2.0" stroke-linejoin="round"/>
<text x="699.60" y="288.75" class="lg">T=190K</text>
<line x1="659.60" y1="298.40" x2="686.80" y2="298.40" stroke="#0000ff" stroke-width="1.6"/>
<path d="M659.60 293.40L664.70 301.20L654.50 301.20Z" fill="none" stroke="#0000ff" stroke-width="2.0" stroke-linejoin="round"/>
<path d="M686.80 293.40L691.90 301.20L681.70 301.20Z" fill="none" stroke="#0000ff" stroke-width="2.0" stroke-linejoin="round"/>
<text x="699.60" y="304.30" class="lg">T=180K</text>
<rect x="647.80" y="347.40" width="105.20" height="151.40" fill="#fff" stroke="#5c5c5c" stroke-width="1.7"/>
<line x1="660.50" y1="360.30" x2="687.80" y2="360.30" stroke="#ffa500" stroke-width="1.6"/>
<path d="M660.50 355.30L665.60 363.10L655.40 363.10Z" fill="none" stroke="#ffa500" stroke-width="2.0" stroke-linejoin="round"/>
<path d="M687.80 355.30L692.90 363.10L682.70 363.10Z" fill="none" stroke="#ffa500" stroke-width="2.0" stroke-linejoin="round"/>
<text x="701.80" y="366.20" class="lg">T=180K</text>
<line x1="660.50" y1="375.90" x2="687.80" y2="375.90" stroke="#000000" stroke-width="1.6"/>
<circle cx="660.50" cy="375.90" r="3.30" fill="#000000" stroke="#000000" stroke-width="1.5"/>
<circle cx="687.80" cy="375.90" r="3.30" fill="#000000" stroke="#000000" stroke-width="1.5"/>
<text x="701.80" y="381.80" class="lg">T=170K</text>
<line x1="660.50" y1="391.50" x2="687.80" y2="391.50" stroke="#ff0000" stroke-width="1.6"/>
<rect x="656.90" y="387.90" width="7.20" height="7.20" fill="#ff0000" stroke="#ff0000" stroke-width="1.5"/>
<rect x="684.20" y="387.90" width="7.20" height="7.20" fill="#ff0000" stroke="#ff0000" stroke-width="1.5"/>
<text x="701.80" y="397.40" class="lg">T=160K</text>
<line x1="660.50" y1="407.10" x2="687.80" y2="407.10" stroke="#00ff00" stroke-width="1.6"/>
<path d="M660.50 402.70L664.90 407.10L660.50 411.50L656.10 407.10Z" fill="#00ff00" stroke="#00ff00" stroke-width="1.5" stroke-linejoin="round"/>
<path d="M687.80 402.70L692.20 407.10L687.80 411.50L683.40 407.10Z" fill="#00ff00" stroke="#00ff00" stroke-width="1.5" stroke-linejoin="round"/>
<text x="701.80" y="413.00" class="lg">T=150K</text>
<line x1="660.50" y1="422.70" x2="687.80" y2="422.70" stroke="#0000ff" stroke-width="1.6"/>
<path d="M660.50 417.70L665.60 425.50L655.40 425.50Z" fill="#0000ff" stroke="#0000ff" stroke-width="1.5" stroke-linejoin="round"/>
<path d="M687.80 417.70L692.90 425.50L682.70 425.50Z" fill="#0000ff" stroke="#0000ff" stroke-width="1.5" stroke-linejoin="round"/>
<text x="701.80" y="428.60" class="lg">T=140K</text>
<line x1="660.50" y1="438.30" x2="687.80" y2="438.30" stroke="#ffa500" stroke-width="1.6"/>
<path d="M655.50 438.30L663.30 433.20L663.30 443.40Z" fill="#ffa500" stroke="#ffa500" stroke-width="1.5" stroke-linejoin="round"/>
<path d="M682.80 438.30L690.60 433.20L690.60 443.40Z" fill="#ffa500" stroke="#ffa500" stroke-width="1.5" stroke-linejoin="round"/>
<text x="701.80" y="444.20" class="lg">T=130K</text>
<line x1="660.50" y1="453.90" x2="687.80" y2="453.90" stroke="#bc8f8f" stroke-width="1.6"/>
<path d="M660.50 458.90L665.60 451.10L655.40 451.10Z" fill="#bc8f8f" stroke="#bc8f8f" stroke-width="1.5" stroke-linejoin="round"/>
<path d="M687.80 458.90L692.90 451.10L682.70 451.10Z" fill="#bc8f8f" stroke="#bc8f8f" stroke-width="1.5" stroke-linejoin="round"/>
<text x="701.80" y="459.80" class="lg">T=120K</text>
<line x1="660.50" y1="469.50" x2="687.80" y2="469.50" stroke="#dcdcdc" stroke-width="1.6"/>
<path d="M665.50 469.50L657.70 464.40L657.70 474.60Z" fill="#dcdcdc" stroke="#dcdcdc" stroke-width="1.5" stroke-linejoin="round"/>
<path d="M692.80 469.50L685.00 464.40L685.00 474.60Z" fill="#dcdcdc" stroke="#dcdcdc" stroke-width="1.5" stroke-linejoin="round"/>
<text x="701.80" y="475.40" class="lg">T=110K</text>
<line x1="660.50" y1="485.10" x2="687.80" y2="485.10" stroke="#9400d3" stroke-width="1.6"/>
<path d="M660.50 480.70L664.90 485.10L660.50 489.50L656.10 485.10Z" fill="#9400d3" stroke="#9400d3" stroke-width="1.5" stroke-linejoin="round"/>
<path d="M687.80 480.70L692.20 485.10L687.80 489.50L683.40 485.10Z" fill="#9400d3" stroke="#9400d3" stroke-width="1.5" stroke-linejoin="round"/>
<text x="701.80" y="491.00" class="lg">T=100K</text>
</svg>
</body></html>
